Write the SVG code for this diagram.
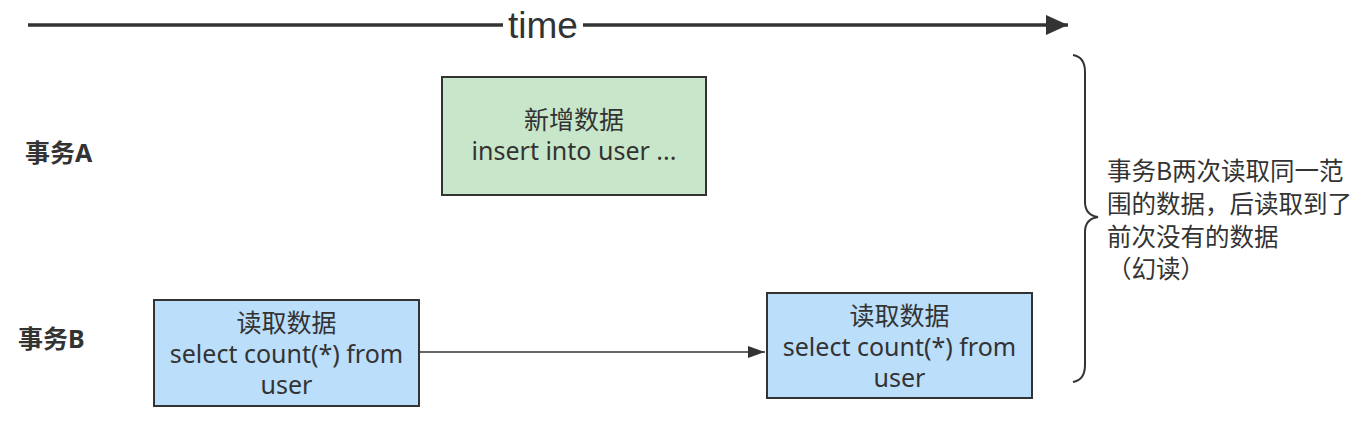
<svg xmlns="http://www.w3.org/2000/svg" width="1364" height="427" viewBox="0 0 1364 427">
<style>
.box{stroke:#333;stroke-width:2}
.t{font-family:"Noto Sans","Noto Sans CJK SC",sans-serif;font-size:25px;fill:#333;text-anchor:middle}
.lbl{font-family:"Noto Sans","Noto Sans CJK SC",sans-serif;font-size:25px;font-weight:bold;fill:#333}
.note{font-family:"Noto Sans CJK SC",sans-serif;font-size:24.5px;fill:#333}
.time{font-family:"Liberation Sans","Noto Sans",sans-serif;font-size:37px;fill:#333;text-anchor:middle}
</style>
<defs>
<marker id="bigArrow" markerUnits="userSpaceOnUse" markerWidth="24" markerHeight="20" refX="22" refY="10" orient="auto">
<path d="M0,0 L22,10 L0,20 Z" fill="#333"/>
</marker>
<marker id="arrow" markerUnits="userSpaceOnUse" markerWidth="18" markerHeight="14" refX="17" refY="7" orient="auto">
<path d="M0,1 L17,7 L0,13 Z" fill="#333"/>
</marker>
</defs>
<rect width="1364" height="427" fill="#fff"/>
<g id="connectors">
<line x1="28" y1="25" x2="1068" y2="25" stroke="#333" stroke-width="3.5" marker-end="url(#bigArrow)"/>
<rect x="503" y="8" width="80" height="36" fill="#fff"/>
<text class="time" x="543" y="38">time</text>
<line x1="419" y1="352" x2="765" y2="352" stroke="#333" stroke-width="1.5" marker-end="url(#arrow)"/>
<path d="M1073,55 Q1085,57 1085,72 L1085,202 Q1085,215 1098,217 Q1085,219 1085,232 L1085,365 Q1085,380 1073,382" fill="none" stroke="#333" stroke-width="2"/>
</g>
<g id="labelA"><text class="lbl" x="25" y="162">事务A</text></g>
<g id="labelB"><text class="lbl" x="18" y="348">事务B</text></g>
<g id="insert">
<rect class="box" x="442" y="77" width="264" height="118" fill="#c8e6c9"/>
<text class="t" x="574" y="129">新增数据</text>
<text class="t" x="574" y="160">insert into user ...</text>
</g>
<g id="read1">
<rect class="box" x="154" y="300" width="265" height="106" fill="#bbdefb"/>
<text class="t" x="286.5" y="332">读取数据</text>
<text class="t" x="286.5" y="363">select count(*) from</text>
<text class="t" x="286.5" y="394">user</text>
</g>
<g id="read2">
<rect class="box" x="767" y="293" width="265" height="105" fill="#bbdefb"/>
<text class="t" x="899.5" y="325">读取数据</text>
<text class="t" x="899.5" y="356">select count(*) from</text>
<text class="t" x="899.5" y="387">user</text>
</g>
<g id="note">
<text class="note" x="1107" y="180">事务B两次读取同一范</text>
<text class="note" x="1107" y="213">围的数据，后读取到了</text>
<text class="note" x="1107" y="246">前次没有的数据</text>
<text class="note" x="1107" y="278">（幻读）</text>
</g>
</svg>
